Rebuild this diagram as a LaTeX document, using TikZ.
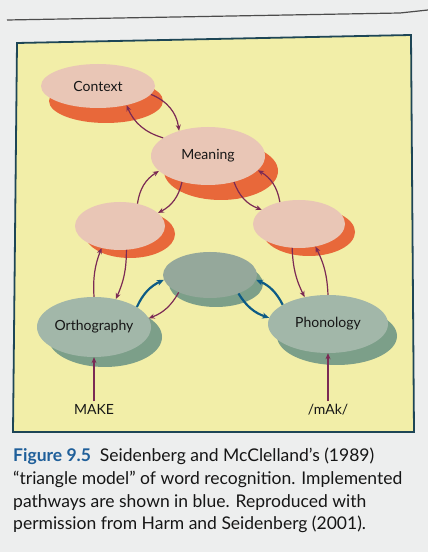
\documentclass[tikz,border=0pt]{standalone}
\usepackage{fontspec}
\setmainfont{Lato}
\usetikzlibrary{shapes.geometric,arrows.meta}
\definecolor{pagec}{HTML}{EDEEEE}
\definecolor{boxc}{HTML}{F2EEA8}
\definecolor{framec}{HTML}{1E4656}
\definecolor{pinkc}{HTML}{E9C6B6}
\definecolor{orangec}{HTML}{E8683A}
\definecolor{greenc}{HTML}{A2B7A9}
\definecolor{dgreenc}{HTML}{7C9F89}
\definecolor{purplec}{HTML}{7B2A55}
\definecolor{bluec}{HTML}{0D5B85}
\definecolor{figblue}{HTML}{1F5F9A}
\definecolor{textc}{HTML}{161616}
\begin{document}
\begin{tikzpicture}[x=1pt,y=1pt,
  ellsize/.style 2 args={ellipse, inner sep=0pt, minimum width=#1pt, minimum height=#2pt},
  pinkN/.style={fill=pinkc, text=textc, font=\fontsize{14}{16}\selectfont},
  greenN/.style={fill=greenc, text=textc, font=\fontsize{14}{16}\selectfont},
  orangeS/.style={fill=orangec},
  greenS/.style={fill=dgreenc},
  parr/.style={draw=purplec, line width=1.2pt, -{Stealth[length=6pt,width=5pt]}},
  barr/.style={draw=bluec, line width=2.2pt, -{Stealth[length=7pt,width=6pt]}},
  inlabel/.style={text=textc, font=\fontsize{14}{16}\selectfont},
  capt/.style={text=textc, font=\fontsize{17.5}{21}\selectfont, inner sep=0pt}
]
\useasboundingbox (0,0) rectangle (428,552);
\fill[pagec] (0,0) rectangle (428,552);
\draw[gray!60!black, line width=1.2pt] (7,532) -- (400,539) -- (428,542);
% figure box
\filldraw[fill=boxc, draw=framec, line width=1.8pt] (17,509) -- (411,517) -- (414,120) -- (13,120) -- cycle;

% shadows
\node[orangeS, ellsize={114}{44}] (ctxS) at (106,451) {};
\node[orangeS, ellsize={114}{58}] (meanS) at (221,381) {};
\node[orangeS, ellsize={90}{48}] (hlS) at (130,318) {};
\node[orangeS, ellsize={92}{48}] (hrS) at (309,320) {};
\node[greenS, ellsize={94}{46}] (hcS) at (216,268) {};
\node[greenS, ellsize={114}{60}] (orthS) at (105,215) {};
\node[greenS, ellsize={120}{58}] (phonS) at (337,216) {};

% main ellipses
\node[pinkN, ellsize={114}{44}] (ctx) at (98,466) {Context};
\node[pinkN, ellsize={114}{58}] (mean) at (208,396) {Meaning};
\node[pinkN, ellsize={90}{48}] (hl) at (120,326) {};
\node[pinkN, ellsize={92}{48}] (hr) at (299,328) {};
\node[greenN, fill=greenc!92!black, ellsize={94}{46}] (hc) at (210,277) {};
\node[greenN, ellsize={114}{60}] (orth) at (94,225) {Orthography};
\node[greenN, ellsize={120}{58}] (phon) at (328,228) {Phonology};

% inputs
\node[inlabel, anchor=base] (make) at (94,137) {MAKE};
\node[inlabel, anchor=base] (mak) at (328,137) {/mAk/};

% purple connections
\draw[parr] (ctx.-9) to[bend left=30] (mean.139);
\draw[parr] (mean.158) to[bend left=25] (ctx.-34);
\draw[parr] (hl.52) to[bend left=25] (mean.-163);
\draw[parr] (mean.-135) to[bend left=25] (hl.19);
\draw[parr] (mean.-45) to[bend right=25] (hr.159);
\draw[parr] (hr.131) to[bend right=25] (mean.-16);
\draw[parr] (orth.90) to[bend left=12] (hl.-130);
\draw[parr] (hl.-75) to[bend left=12] (orth.52);
\draw[parr] (hr.-106) to[bend right=12] (phon.131);
\draw[parr] (phon.90) to[bend right=12] (hr.-54);
\draw[parr] (hc.-151) to[bend left=20] (orth.9);
\draw[parr] (make.north) -- (orth.south);
\draw[parr] (mak.north) -- (phon.south);

% blue connections
\draw[barr] (orth.25) to[bend left=20] (hc.186);
\draw[barr] (hc.-33) to[bend right=20] (phon.174);
\draw[barr] (phon.157) to[bend right=20] (hc.-6);

% caption
\node[capt, anchor=base west] (c1) at (13,90) {\textcolor{figblue}{\bfseries Figure 9.5}\ \ Seidenberg and McClelland’s (1989)};
\node[capt, anchor=base west] (c2) at (13,67) {“triangle model” of word recognition. Implemented};
\node[capt, anchor=base west] (c3) at (13,45) {pathways are shown in blue. Reproduced with};
\node[capt, anchor=base west] (c4) at (13,23) {permission from Harm and Seidenberg (2001).};
\end{tikzpicture}
\end{document}
